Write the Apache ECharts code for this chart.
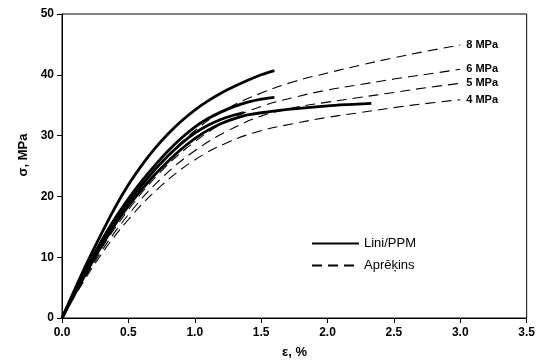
<!DOCTYPE html>
<html>
<head>
<meta charset="utf-8">
<script src="https://cdn.jsdelivr.net/npm/echarts@6/dist/echarts.min.js"></script>
<style>
  html, body { margin: 0; padding: 0; background: #fff; }
  #chart { width: 538px; height: 363px; }
</style>
</head>
<body>
<div id="chart"></div>
<script>
// Strain axis ticks (%) and stress axis ticks (MPa)
const xTicks = [0.0, 0.5, 1.0, 1.5, 2.0, 2.5, 3.0, 3.5];
const yTicks = [0, 10, 20, 30, 40, 50];

// Calculated curves (Aprēķins), common strain points
const epsCalc = [0, 0.25, 0.5, 0.75, 1.0, 1.25, 1.5, 1.75, 2.0, 2.25, 2.5, 2.75, 3.0];
const calc8 = [0, 10.3, 18.8, 25.6, 30.8, 34.5, 37.0, 38.9, 40.3, 41.6, 42.8, 43.9, 44.9];
const calc6 = [0, 9.8, 17.8, 24.2, 29.0, 32.5, 34.8, 36.3, 37.5, 38.4, 39.3, 40.1, 40.9];
const calc5 = [0, 9.4, 17.0, 23.0, 27.5, 30.8, 33.2, 34.6, 35.5, 36.3, 37.1, 37.9, 38.6];
const calc4 = [0, 9.0, 16.2, 21.8, 26.0, 28.9, 30.8, 32.0, 33.0, 33.8, 34.6, 35.3, 35.9];
const calcLabels = ['8 MPa', '6 MPa', '5 MPa', '4 MPa'];

// Measured curves (Lini/PPM)
const epsA = [0, 0.1, 0.2, 0.3, 0.4, 0.5, 0.6, 0.7, 0.8, 0.9, 1.0, 1.1, 1.2, 1.3, 1.4, 1.5, 1.6];
const testA = [0, 4.9, 9.6, 14.0, 18.2, 21.9, 25.1, 27.9, 30.3, 32.4, 34.2, 35.7, 37.0, 38.1, 39.1, 40.0, 40.7];
const epsB = [0, 0.1, 0.2, 0.3, 0.4, 0.5, 0.6, 0.7, 0.8, 0.9, 1.0, 1.1, 1.2, 1.3, 1.4, 1.5, 1.6];
const testB = [0, 4.4, 8.8, 12.8, 16.4, 19.6, 22.5, 25.1, 27.5, 29.6, 31.4, 32.8, 33.9, 34.8, 35.5, 36.0, 36.3];
const epsC = [0, 0.1, 0.2, 0.3, 0.4, 0.5, 0.6, 0.7, 0.8, 0.9, 1.0, 1.1, 1.2, 1.3, 1.37];
const testC = [0, 4.3, 8.5, 12.4, 15.9, 19.0, 21.8, 24.4, 26.7, 28.7, 30.4, 31.7, 32.7, 33.4, 33.8];
const epsD = [0, 0.1, 0.2, 0.3, 0.4, 0.5, 0.6, 0.7, 0.8, 0.9, 1.0, 1.1, 1.2, 1.3, 1.4, 1.55, 1.7, 1.85, 2.0, 2.15, 2.33];
const testD = [0, 4.1, 8.1, 11.9, 15.4, 18.4, 21.1, 23.6, 25.8, 27.8, 29.5, 30.9, 32.0, 32.8, 33.4, 33.9, 34.3, 34.6, 34.9, 35.1, 35.3];

const zip = (xs, ys) => xs.map((x, i) => [x, ys[i]]);
const FONT = 'Liberation Sans, Arial, sans-serif';

const calcSets = [calc8, calc6, calc5, calc4];
const calcSeries = calcSets.map((ys, i) => ({
  name: 'Aprēķins',
  type: 'line',
  data: zip(epsCalc, ys),
  smooth: 0.4,
  symbol: 'none',
  z: 2,
  itemStyle: { color: '#000' },
  lineStyle: { color: '#000', width: 1.1, type: [10, 6] },
  endLabel: {
    show: true,
    formatter: calcLabels[i],
    distance: 6,
    color: '#000',
    fontFamily: FONT,
    fontWeight: 'bold',
    fontSize: 11
  }
}));

const testSets = [[epsA, testA], [epsB, testB], [epsC, testC], [epsD, testD]];
const testSeries = testSets.map(([xs, ys]) => ({
  name: 'Lini/PPM',
  type: 'line',
  data: zip(xs, ys),
  smooth: 0.3,
  symbol: 'none',
  z: 3,
  itemStyle: { color: '#000' },
  lineStyle: { color: '#000', width: 2.8 }
}));

const chart = echarts.init(document.getElementById('chart'), null, { renderer: 'canvas' });
chart.setOption({
  animation: false,
  backgroundColor: '#fff',
  grid: {
    left: 62, right: 8, top: 14, bottom: 45,
    show: true, borderColor: '#000', borderWidth: 1, backgroundColor: 'transparent'
  },
  legend: {
    orient: 'vertical',
    left: 306, top: 232,
    itemWidth: 47, itemHeight: 10, itemGap: 9,
    data: ['Lini/PPM', 'Aprēķins'],
    itemStyle: { opacity: 0 },
    textStyle: { color: '#000', fontFamily: FONT, fontSize: 13 }
  },
  xAxis: {
    type: 'value',
    min: xTicks[0], max: xTicks[xTicks.length - 1], interval: 0.5,
    axisLine: { lineStyle: { color: '#000', width: 1 } },
    axisTick: { show: true, length: 5, lineStyle: { color: '#000' } },
    splitLine: { show: false },
    axisLabel: {
      color: '#000', fontFamily: FONT, fontWeight: 'bold', fontSize: 12, margin: 9,
      formatter: v => v.toFixed(1)
    }
  },
  yAxis: {
    type: 'value',
    min: yTicks[0], max: yTicks[yTicks.length - 1], interval: 10,
    axisLine: { show: true, lineStyle: { color: '#000', width: 1 } },
    axisTick: { show: true, length: 5, lineStyle: { color: '#000' } },
    splitLine: { show: false },
    axisLabel: { color: '#000', fontFamily: FONT, fontWeight: 'bold', fontSize: 12, margin: 8 }
  },
  graphic: [
    {
      type: 'text', left: 282, top: 346,
      style: { text: 'ε, %', fill: '#000', font: 'bold 13px ' + FONT }
    },
    {
      type: 'text', x: 23, y: 155, rotation: Math.PI / 2,
      style: { text: 'σ, MPa', fill: '#000', font: 'bold 13px ' + FONT, textAlign: 'center', textVerticalAlign: 'middle' }
    }
  ],
  series: [...calcSeries, ...testSeries]
});
</script>
</body>
</html>
